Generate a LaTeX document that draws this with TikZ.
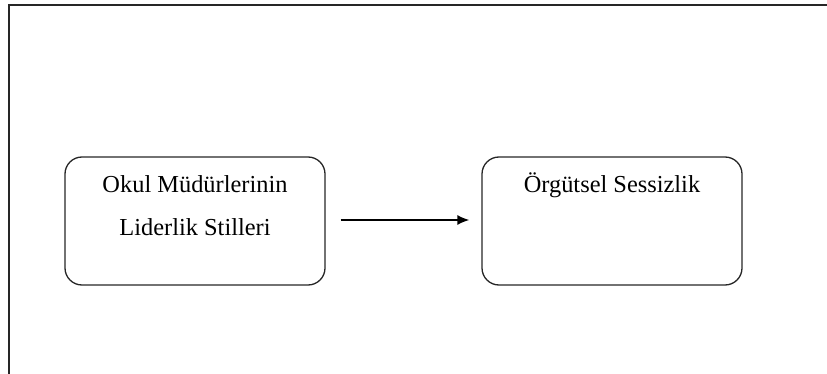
\documentclass[tikz,border=0pt]{standalone}
\usepackage{fontspec}
\setmainfont{Liberation Serif}
\usetikzlibrary{arrows.meta}
\begin{document}
\begin{tikzpicture}[x=1pt,y=-1pt,
  box/.style={draw=black!85,line width=1.3pt,rounded corners=17pt,minimum width=260pt,minimum height=128pt,inner sep=0pt},
  lbl/.style={font=\fontsize{24.4}{29}\selectfont,inner sep=0pt,anchor=base},
  frame/.style={line width=2pt,draw=black!85}]
\useasboundingbox (0,0) rectangle (827,374);
\draw[frame] (827,5.5) -- (8.5,5.5) -- (8.5,374);
\node[box] (b1) at (195,221) {};
\node[box] (b2) at (612,221) {};
\node[lbl] (t1) at (195,193) {Okul Müdürlerinin};
\node[lbl] (t2) at (195,235) {Liderlik Stilleri};
\node[lbl] (t3) at (612,193) {Örgütsel Sessizlik};
\draw[line width=1.5pt,-{Latex[length=12pt,width=10pt]}] ([xshift=15pt,yshift=1pt]b1.east) -- ([xshift=-12pt,yshift=1pt]b2.west);
\end{tikzpicture}
\end{document}
